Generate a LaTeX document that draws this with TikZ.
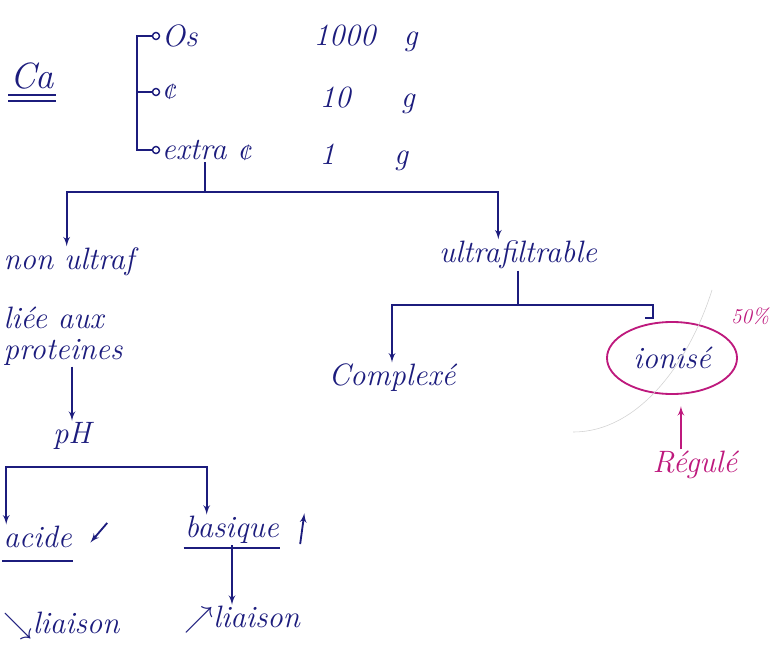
\documentclass[tikz,border=0pt]{standalone}
\usepackage{amssymb}
\usepackage{tikz}
\usetikzlibrary{arrows,shapes.geometric}

\definecolor{ink}{RGB}{28,28,125}
\definecolor{rose}{RGB}{190,25,125}

\begin{document}
\begin{tikzpicture}[x=0.025cm,y=-0.025cm]
                \tikzset{word/.style = {text=ink, font=\fontsize{22}{26}\selectfont\itshape, inner sep=1pt}}
                \tikzset{pinkword/.style = {word, text=rose}}
                \tikzset{ringed/.style = {ellipse, draw=rose, line width=1.3pt, minimum width=3.25cm, minimum height=1.8cm}}
                \tikzset{dot/.style = {circle, draw=ink, line width=1pt, inner sep=0pt, minimum size=5pt}}
                \tikzset{link/.style = {draw=ink, line width=1.3pt}}
                \tikzset{edge/.style = {link, ->, > = latex'}}
                \tikzset{pedge/.style = {draw=rose, line width=1.3pt, ->, > = latex'}}
                \useasboundingbox (0,0) rectangle (775,644);
                \fill[white] (0,0) rectangle (775,644);
                % top block
                \node[word, font=\fontsize{26}{30}\selectfont\itshape] (ca) at (32,76) {Ca};
                \draw[link] ([yshift=-3pt]ca.south west) -- ([yshift=-3pt]ca.south east);
                \draw[link] ([yshift=-7pt]ca.south west) -- ([yshift=-7pt]ca.south east);

                \node[dot] (o1) at (156,36) {};
                \node[dot] (o2) at (156,92) {};
                \node[dot] (o3) at (156,150) {};
                \node[word, anchor=west] (os) at (o1.east) {Os};
                \node[word, anchor=west] (cell) at (o2.east) {¢};
                \node[word, anchor=west] (extra) at (o3.east) {extra ¢};
                \coordinate (spine) at (137,92);

                \node[word, anchor=west] (m1) at (312,38) {1000\;\; g};
                \node[word, anchor=west] (m2) at (318,100) {10\quad\; g};
                \node[word, anchor=west] (m3) at (318,157) {1\quad\;\; g};

                % first split
                \coordinate (j1) at (205,192);
                \node[word, anchor=west] (nonu) at (2,262) {non ultraf};
                \node[word] (ultra) at (518,255) {ultrafiltrable};

                % left branch
                \node[word, anchor=west] (liee) at (2,318) {liée aux};
                \node[word, anchor=west] (prot) at (2,352) {proteines};
                \node[word] (ph) at (72,436) {pH};
                \coordinate (j2) at (100,467);
                \node[word, anchor=west] (acide) at (2,537) {acide};
                \node[word] (basique) at (232,530) {basique};
                \node[word, anchor=west] (liaa) at (2,626) {$\searrow$liaison};
                \node[word] (liab) at (242,620) {$\nearrow$liaison};

                % right branch
                \coordinate (j3) at (518,305);
                \coordinate (hook) at (653,318);
                \node[word] (cplx) at (392,378) {Complexé};
                \node[word, ringed] (ion) at (672,358) {ionisé};
                \node[pinkword, font=\fontsize{15}{18}\selectfont\itshape] (pct) at (750,316) {50\%};
                \node[pinkword] (reg) at (695,465) {Régulé};
                \coordinate (rtip) at ([xshift=-10pt]reg.north);

                %edges
                \draw[link] (o1) -| (spine) |- (o3);
                \draw[link] (spine) -- (o2);
                \draw[link] (extra.south -| j1) -- (j1);
                \draw[edge] (j1) -| ([xshift=46pt]nonu.north west);
                \draw[edge] (j1) -| ([xshift=-14pt]ultra.north);

                \draw[edge] (prot.south -| ph) -- (ph);
                \draw[edge] (j2) -| ([xshift=3pt]acide.north west);
                \draw[edge] (j2) -| ([xshift=-18pt]basique.north);
                \draw[link] ([yshift=-8pt]acide.south west) -- ([yshift=-8pt]acide.south east);
                \draw[link] ([yshift=-2pt]basique.south west) -- ([yshift=-2pt]basique.south east);
                \draw[edge] ([shift={(24pt,10pt)}]acide.east) -- ++(-12pt,-14pt);
                \draw[edge] ([shift={(14pt,-10pt)}]basique.east) -- ++(3pt,22pt);
                \draw[edge] (basique.south) -- (basique.south |- liab.north);

                \draw[link] (ultra.south -| j3) -- (j3);
                \draw[edge] (j3) -| (cplx);
                \draw[link] (j3) -| (hook) -- ++(-8,0);
                \draw[pedge, shorten >=8pt] (rtip) -- (rtip |- ion.south);

                % stray pencil line
                \draw[gray!35, thin] (573,432) .. controls (640,432) and (690,360) .. (712,290);
            \end{tikzpicture}
\end{document}
